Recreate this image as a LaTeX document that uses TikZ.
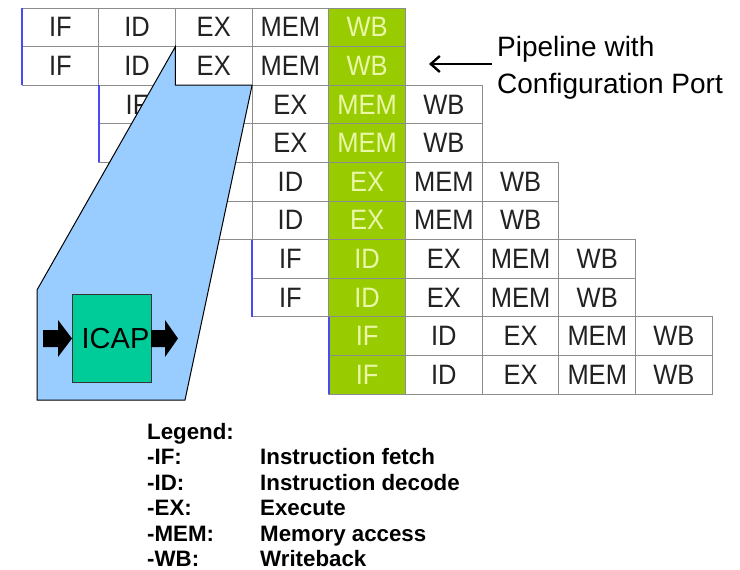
\documentclass[tikz,border=0pt]{standalone}
\usepackage{fontspec}
\setmainfont{Liberation Sans}
\usetikzlibrary{arrows.meta,calc}

\definecolor{stagegreen}{HTML}{99CC00}
\definecolor{stagetext}{HTML}{EAF7A8}
\definecolor{celltext}{HTML}{222222}
\definecolor{gridgray}{HTML}{8C8C8C}
\definecolor{startblue}{HTML}{4A4AF5}
\definecolor{zoomblue}{HTML}{99CCFF}
\definecolor{icapgreen}{HTML}{00CC99}

% stage names are set a little taller than wide
\newcommand{\stagename}[1]{\scalebox{1}[1.1]{#1}}

\begin{document}
\begin{tikzpicture}[x=1pt,y=-1pt,
  cell/.style={draw=gridgray, line width=1pt, minimum width=76.7pt,
    minimum height=38.6pt, inner sep=0pt, outer sep=0pt, anchor=north west,
    font=\fontsize{25.5}{25.5}\selectfont, text=celltext},
  plaincell/.style={fill=white},
  hotcell/.style={fill=stagegreen, text=stagetext},
  startedge/.style={draw=startblue, line width=2.2pt},
  zoomout/.style={draw=black, line width=1pt, fill=zoomblue, line join=miter},
  icapbox/.style={draw=black!80, line width=1pt, fill=icapgreen,
    minimum width=79pt, minimum height=88pt, inner sep=0pt, outer sep=0pt,
    font=\fontsize{29}{29}\selectfont},
  portlabel/.style={font=\fontsize{28}{37}\selectfont, align=left,
    inner sep=0pt, anchor=west},
  pointer/.style={line width=2.4pt, -{Straight Barb[length=9pt,width=16pt]}},
  legendtext/.style={font=\bfseries\fontsize{22.3}{22.3}\selectfont,
    inner sep=0pt, anchor=base west}]

\useasboundingbox (0,0) rectangle (740,570);
\fill[white] (0,0) rectangle (740,570);

% pipeline stages: two instructions per issue slot, each pair shifted one column
\foreach \row in {0,...,9}{
  \pgfmathtruncatemacro\pair{int(\row/2)}
  \foreach \stg [count=\k from 0] in {IF,ID,EX,MEM,WB}{
    \pgfmathtruncatemacro\col{\pair+\k}
    \ifnum\col=4 \def\look{hotcell}\else\def\look{plaincell}\fi
    \node[cell,\look] (c\row-\col) at (22+76.7*\col, 8+38.6*\row)
      {\stagename{\stg}};
  }
}

% blue marks at the first stage of each instruction pair
\foreach \pair in {0,...,4}{
  \pgfmathtruncatemacro\ra{2*\pair}
  \pgfmathtruncatemacro\rb{2*\pair+1}
  \draw[startedge] (c\ra-\pair.north west) -- (c\rb-\pair.south west);
}

% zoom-out callout from the EX stage
\coordinate (zbr) at (185,400);
\coordinate (zbl) at (37,400);
\coordinate (zml) at (37,290);
\draw[zoomout] (c1-2.north west) -- (c1-2.south west) -- (c1-2.south east)
  -- (zbr) -- (zbl) -- (zml) -- cycle;

% configuration port block with its input and output
\node[icapbox] (icap) at (111.5,338.5) {\hspace*{8pt}ICAP};
\fill[black] ($(icap.west)+(-29,-8.5)$) -- ($(icap.west)+(-14,-8.5)$)
  -- ($(icap.west)+(-14,-18.5)$) -- (icap.west) -- ($(icap.west)+(-14,18.5)$)
  -- ($(icap.west)+(-14,8.5)$) -- ($(icap.west)+(-29,8.5)$) -- cycle;
\fill[black] ($(icap.east)+(0,-8.5)$) -- ($(icap.east)+(14,-8.5)$)
  -- ($(icap.east)+(14,-18.5)$) -- ($(icap.east)+(27,0)$)
  -- ($(icap.east)+(14,18.5)$) -- ($(icap.east)+(14,8.5)$)
  -- ($(icap.east)+(0,8.5)$) -- cycle;

% annotation
\node[portlabel] (plabel) at (497,67.5) {Pipeline with\\Configuration Port};
\coordinate (ptarget) at (429,64);
\draw[pointer] ($(plabel.west)+(-5,-3.5)$) -- (ptarget);

% legend
\node[legendtext] (lhead) at (147,439) {Legend:};
\foreach \abbr/\descr [count=\i] in {-IF:/Instruction fetch,
    -ID:/Instruction decode, -EX:/Execute, -MEM:/Memory access,
    -WB:/Writeback}{
  \node[legendtext] (lk\i) at (147,439+25.5*\i) {\abbr};
  \node[legendtext] (lv\i) at (260,439+25.5*\i) {\descr};
}
\end{tikzpicture}
\end{document}
